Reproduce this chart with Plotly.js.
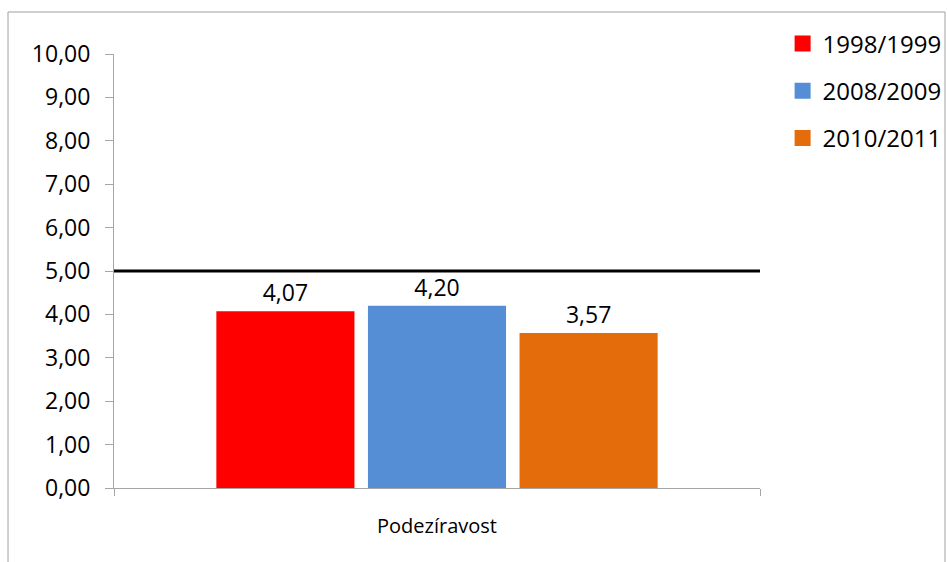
<!DOCTYPE html>
<html>
<head>
<meta charset="utf-8">
<script src="https://cdn.plot.ly/plotly-3.0.1.min.js"></script>
<style>html,body{margin:0;padding:0;background:#fff;} #chart{width:948px;height:562px;}</style>
</head>
<body>
<div id="chart"></div>
<script>
const categories = ["Podezíravost"];
const seriesNames = ["1998/1999", "2008/2009", "2010/2011"];
const seriesValues = [[4.07], [4.20], [3.57]];
const seriesColors = ["#FF0000", "#558ED5", "#E46C0A"];
const thresholdValue = 5.00;
const yTickValues = [0,1,2,3,4,5,6,7,8,9,10];

const FONT = "Open Sans, Liberation Sans, sans-serif";

const traces = [];
seriesNames.forEach((name, i) => {
  traces.push({
    type: "bar",
    x: categories,
    y: seriesValues[i],
    name: name,
    marker: {color: seriesColors[i]},
    texttemplate: "%{y:.2f}",
    textposition: "outside",
    cliponaxis: false,
    textfont: {family: FONT, size: 23, color: "#000"},
    showlegend: false,
    hoverinfo: "skip"
  });
});
// legend entries with larger square symbols
seriesNames.forEach((name, i) => {
  traces.push({
    type: "scatter",
    mode: "markers",
    x: [null],
    y: [null],
    name: name,
    legendgroup: "g" + i,
    marker: {symbol: "square", size: 16, color: seriesColors[i]},
    showlegend: true
  });
});

const layout = {
  width: 948,
  height: 562,
  margin: {l: 114, r: 188, t: 54, b: 74, autoexpand: false},
  paper_bgcolor: "#fff",
  plot_bgcolor: "#fff",
  separators: ", ",
  font: {family: FONT, color: "#000"},
  barmode: "group",
  bargap: 0.296,
  bargroupgap: 0.089,
  showlegend: true,
  legend: {
    x: 1.035, xanchor: "left",
    y: 1.075, yanchor: "top",
    font: {family: FONT, size: 24, color: "#000"},
    tracegroupgap: 13,
    traceorder: "grouped",
    bgcolor: "rgba(0,0,0,0)"
  },
  xaxis: {
    type: "category",
    showline: true,
    linecolor: "#A6A6A6",
    linewidth: 1,
    ticks: "outside",
    tickson: "boundaries",
    ticklen: 7,
    tickcolor: "#A6A6A6",
    showgrid: false,
    zeroline: false,
    tickfont: {family: FONT, size: 20, color: "#000"},
    ticklabelstandoff: 20,
    fixedrange: true
  },
  yaxis: {
    range: [0, 10],
    tickvals: yTickValues,
    tickformat: ".2f",
    showline: true,
    linecolor: "#A6A6A6",
    linewidth: 1,
    ticks: "outside",
    ticklen: 8,
    tickcolor: "#A6A6A6",
    showgrid: false,
    zeroline: false,
    tickfont: {family: FONT, size: 23, color: "#000"},
    ticklabelstandoff: 10,
    fixedrange: true
  },
  shapes: [
    {
      type: "line", xref: "paper", yref: "y",
      x0: 0, x1: 1, y0: thresholdValue, y1: thresholdValue,
      line: {color: "#000", width: 3}
    },
    {
      type: "rect", xref: "paper", yref: "paper",
      x0: (8 - 114) / 646, x1: (945 - 114) / 646,
      y0: -0.2, y1: (488 - 12) / 434,
      line: {color: "#A0A0A0", width: 1},
      fillcolor: "rgba(0,0,0,0)",
      layer: "below"
    }
  ]
};

Plotly.newPlot("chart", traces, layout, {displayModeBar: false, staticPlot: true});
</script>
</body>
</html>
